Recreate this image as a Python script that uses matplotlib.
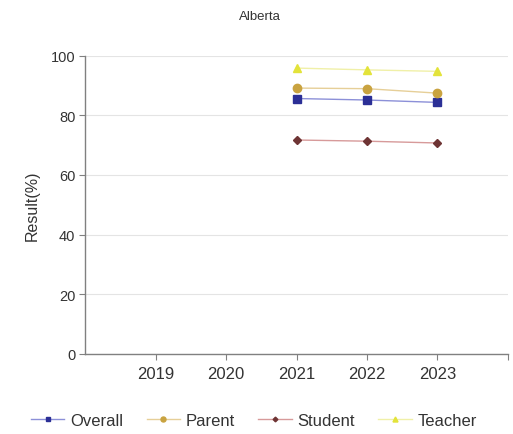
import matplotlib
matplotlib.use("Agg")
import matplotlib.pyplot as plt

plt.rcParams['font.family'] = ['Liberation Sans', 'DejaVu Sans']

years = [2021, 2022, 2023]
tick_years = [2019, 2020, 2021, 2022, 2023]
overall = [85.6, 85.1, 84.3]
parent = [89.1, 88.9, 87.4]
student = [71.7, 71.3, 70.7]
teacher = [95.8, 95.2, 94.7]

series = [
    ("Overall", overall, "s", "#2b2f96", "#8c90d8", 6.0),
    ("Parent", parent, "o", "#c9a340", "#e6cf98", 6.0),
    ("Student", student, "D", "#6e3434", "#d79a9a", 4.0),
    ("Teacher", teacher, "^", "#e3e33a", "#f0f0a8", 6.0),
]

fig = plt.figure(figsize=(5.13, 4.35), dpi=100)
ax = fig.add_axes([0.166, 0.184, 0.824, 0.686])

for name, vals, mk, mcol, lcol, ms in series:
    ax.plot(years, vals, color=lcol, linewidth=1.0, marker=mk, markersize=ms,
            markerfacecolor=mcol, markeredgecolor=mcol, label=name)

ax.set_xlim(2018, 2024)
ax.set_ylim(0, 100)
ax.set_xticks(tick_years + [2024])
ax.set_xticklabels([str(y) for y in tick_years] + [""])
ax.set_yticks([0, 20, 40, 60, 80, 100])
ax.grid(axis='y', color='#e4e4e4', linewidth=0.8)
ax.set_axisbelow(True)
for s in ('top', 'right'):
    ax.spines[s].set_visible(False)
for s in ('left', 'bottom'):
    ax.spines[s].set_color('#808080')
    ax.spines[s].set_linewidth(1.0)
ax.tick_params(axis='both', colors='#808080', labelcolor='#333333',
               length=4, width=0.8)
ax.tick_params(axis='x', labelsize=12, pad=5)
ax.tick_params(axis='y', labelsize=10.5, pad=3)

ax.set_ylabel("Result(%)", fontsize=11.5, color='#333333', labelpad=8)
fig.text(0.506, 0.962, "Alberta", ha='center', va='center', fontsize=9.5, color='#333333')

handles, labels = ax.get_legend_handles_labels()
fig.legend(handles, labels, loc='center', bbox_to_anchor=(0.495, 0.032), ncol=4,
           frameon=False, fontsize=12, handlelength=2.0, markerscale=0.6,
           columnspacing=1.4, handletextpad=0.35, labelcolor='#333333')

fig.savefig("out.png", dpi=100)
